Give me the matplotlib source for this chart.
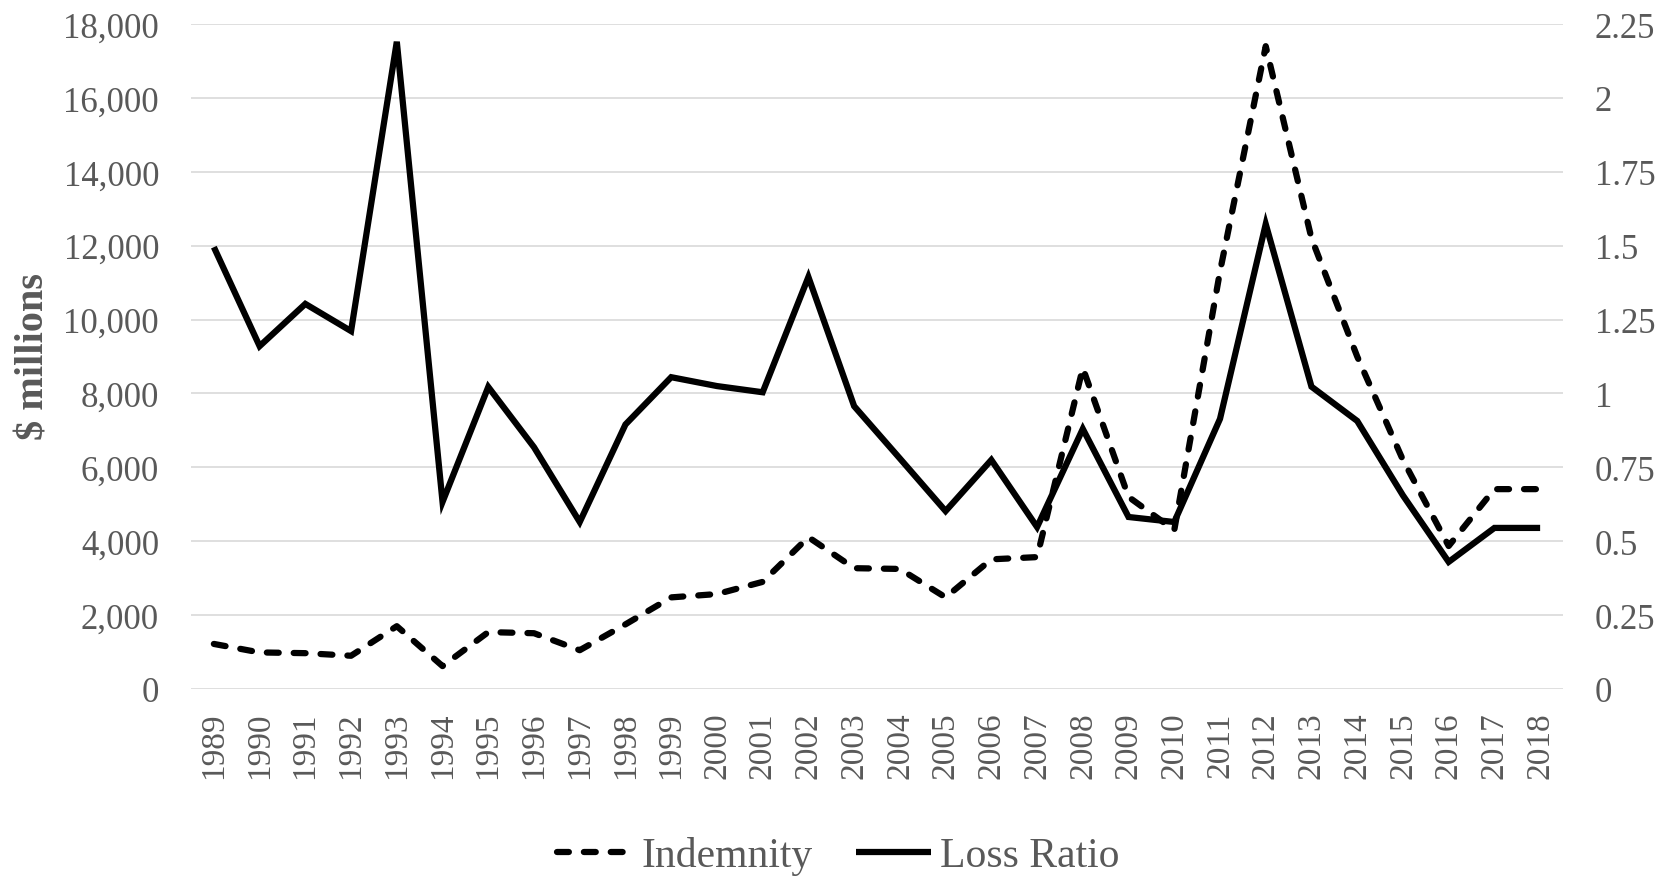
import matplotlib
matplotlib.use("Agg")
import matplotlib.pyplot as plt
from matplotlib.ticker import FuncFormatter, MultipleLocator
from matplotlib.lines import Line2D

years = [str(y) for y in range(1989, 2019)]
indemnity = [1220, 990, 970, 900, 1700, 620, 1540, 1510, 1050, 1750,
             2480, 2570, 2900, 4110, 3270, 3250, 2480, 3510, 3570, 8690,
             5200, 4300, 11300, 17400, 12200, 9000, 6200, 3870, 5410, 5410]
loss_ratio = [1.495, 1.160, 1.303, 1.211, 2.190, 0.633, 1.022, 0.818, 0.565, 0.895,
              1.055, 1.025, 1.004, 1.394, 0.957, 0.780, 0.602, 0.775, 0.548, 0.880,
              0.582, 0.565, 0.914, 1.573, 1.023, 0.907, 0.655, 0.430, 0.545, 0.545]

GREY = "#595959"
GRID = "#d9d9d9"
plt.rcParams["font.family"] = ["Liberation Serif", "DejaVu Serif"]

W, H = 1677, 878
fig = plt.figure(figsize=(W / 100, H / 100), dpi=100)
ax = fig.add_axes([191 / W, 1 - 690 / H, (1563 - 191) / W, (690 - 25) / H])
ax2 = ax.twinx()

x = list(range(len(years)))
lw = 4.5
ax.plot(x, indemnity, color="black", lw=lw, linestyle=(0, (1.9, 2.4)),
        dash_capstyle="round", solid_joinstyle="miter", zorder=3)
ax2.plot(x, loss_ratio, color="black", lw=lw, solid_joinstyle="miter",
         solid_capstyle="butt", zorder=3)

ax.set_xlim(-0.5, len(years) - 0.5)
ax.set_ylim(0, 18000)
ax2.set_ylim(0, 2.25)
ax.yaxis.set_major_locator(MultipleLocator(2000))
ax2.yaxis.set_major_locator(MultipleLocator(0.25))
ax.yaxis.set_major_formatter(FuncFormatter(lambda v, p: f"{int(v):,}"))
ax2.yaxis.set_major_formatter(FuncFormatter(lambda v, p: f"{v:g}"))
ax.set_xticks(x)
ax.set_xticklabels(years, rotation=90)

ax.grid(axis="y", color=GRID, lw=1.2)
ax.set_axisbelow(True)
for a in (ax, ax2):
    for s in a.spines.values():
        s.set_visible(False)
ax.tick_params(axis="y", length=0, pad=23, labelsize=25, labelcolor=GREY)
ax2.tick_params(axis="y", length=0, pad=23, labelsize=25, labelcolor=GREY)
ax.tick_params(axis="x", length=0, pad=16, labelsize=24, labelcolor=GREY)

fig.text(34 / W, 1 - 357 / H, "$ millions", rotation=90, ha="center", va="center",
         fontsize=29, fontweight="bold", color=GREY)

handles = [
    Line2D([0], [0], color="black", lw=lw, linestyle=(0, (1.9, 2.4)), dash_capstyle="round"),
    Line2D([0], [0], color="black", lw=lw, solid_capstyle="butt"),
]
leg = fig.legend(handles, ["Indemnity", "Loss Ratio"], loc="center",
                 bbox_to_anchor=(838.5 / W, 1 - 857 / H), ncol=2, frameon=False,
                 fontsize=30, handlelength=1.8, handletextpad=0.22,
                 columnspacing=1.05, borderpad=0, borderaxespad=0)
for t in leg.get_texts():
    t.set_color(GREY)

fig.savefig("out.png", dpi=100)
